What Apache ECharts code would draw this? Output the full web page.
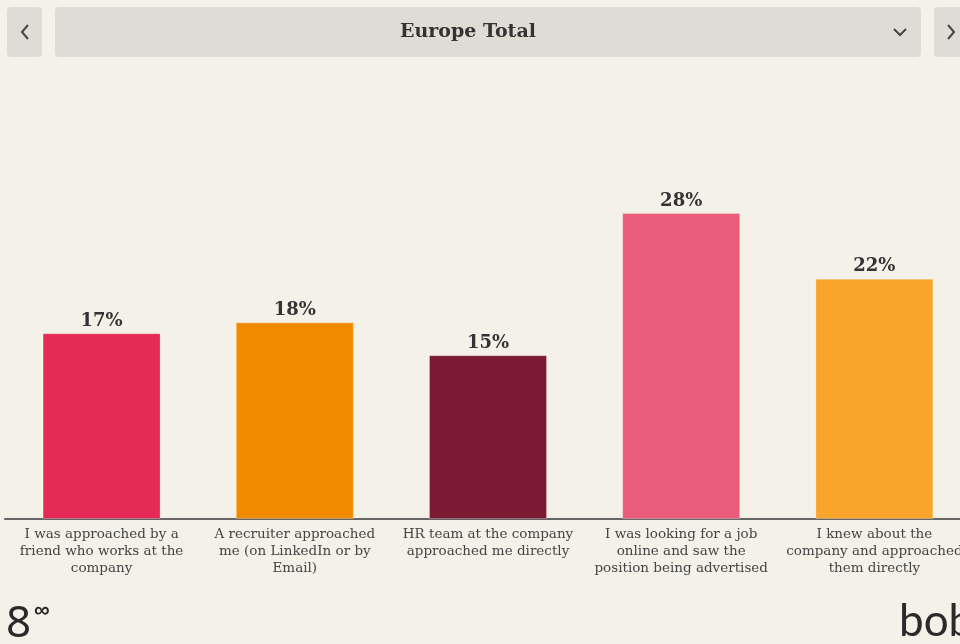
<!DOCTYPE html>
<html>
<head>
<meta charset="utf-8">
<script src="https://cdn.jsdelivr.net/npm/echarts@6/dist/echarts.min.js"></script>
<style>
  html, body { margin: 0; padding: 0; background: #f4f2e8; overflow: hidden; }
  #chart { width: 971px; height: 644px; }
</style>
</head>
<body>
<div id="chart"></div>
<script>
// How people came to their current job — Europe Total
const title = 'Europe Total';
const categories = [
  'I was approached by a\nfriend who works at the\ncompany',
  'A recruiter approached\nme (on LinkedIn or by\nEmail)',
  'HR team at the company\napproached me directly',
  'I was looking for a job\nonline and saw the\nposition being advertised',
  'I knew about the\ncompany and approached\nthem directly'
];
const values = [17, 18, 15, 28, 22];
const barColors = ['#e62a58', '#f28a00', '#7c1a34', '#eb5c7c', '#f9a42a'];

const serif = '"DejaVu Serif", "Liberation Serif", serif';
const chart = echarts.init(document.getElementById('chart'), null, { renderer: 'canvas' });

chart.setOption({
  backgroundColor: '#f4f2e8',
  animation: false,
  // the plot runs a little past the right edge of the visible page
  grid: { left: 5, right: 0, top: 82, bottom: 125 },
  xAxis: {
    type: 'category',
    data: categories,
    axisLine: { lineStyle: { color: '#666', width: 2 } },
    axisTick: { show: false },
    axisLabel: {
      interval: 0,
      margin: 7,
      color: '#444',
      fontFamily: serif,
      fontSize: 13.5,
      lineHeight: 17
    }
  },
  yAxis: {
    type: 'value',
    min: 0,
    max: 40,
    show: false,
    splitLine: { show: false }
  },
  series: [{
    type: 'bar',
    barWidth: 118,
    data: values.map((v, i) => ({
      value: v,
      itemStyle: { color: barColors[i], borderColor: 'rgba(255,255,255,0.25)', borderWidth: 1 }
    })),
    label: {
      show: true,
      position: 'top',
      distance: 3,
      formatter: '{c}%',
      color: '#333',
      fontFamily: serif,
      fontWeight: 'bold',
      fontSize: 18
    }
  }],
  graphic: [
    // navigation header
    { type: 'rect', shape: { x: 7, y: 7, width: 35, height: 50, r: 4 }, style: { fill: '#dedcd4' } },
    { type: 'rect', shape: { x: 55, y: 7, width: 866, height: 50, r: 4 }, style: { fill: '#dedcd4' } },
    { type: 'rect', shape: { x: 934, y: 7, width: 40, height: 50, r: 4 }, style: { fill: '#dedcd4' } },
    { type: 'polyline', shape: { points: [[28, 25], [22, 32], [28, 39]] }, style: { stroke: '#444', lineWidth: 2, fill: null } },
    { type: 'polyline', shape: { points: [[948, 25], [954, 32], [948, 39]] }, style: { stroke: '#444', lineWidth: 2, fill: null } },
    { type: 'polyline', shape: { points: [[894, 29], [900, 35], [906, 29]] }, style: { stroke: '#444', lineWidth: 2, fill: null } },
    {
      type: 'text', left: 400, top: 23,
      style: { text: title, font: 'bold 19px ' + serif, fill: '#333' }
    },
    // footer marks
    { type: 'text', left: 6, top: 602, style: { text: '8', font: '44px "Noto Sans", sans-serif', fill: '#2a2a2a' } },
    { type: 'text', left: 34, top: 600, style: { text: '∞', font: 'bold 22px "Noto Sans", sans-serif', fill: '#2a2a2a' } },
    { type: 'text', left: 899, top: 600, style: { text: 'bob', font: '44px "Lato", sans-serif', fill: '#2a2a2a' } }
  ]
});
</script>
</body>
</html>
